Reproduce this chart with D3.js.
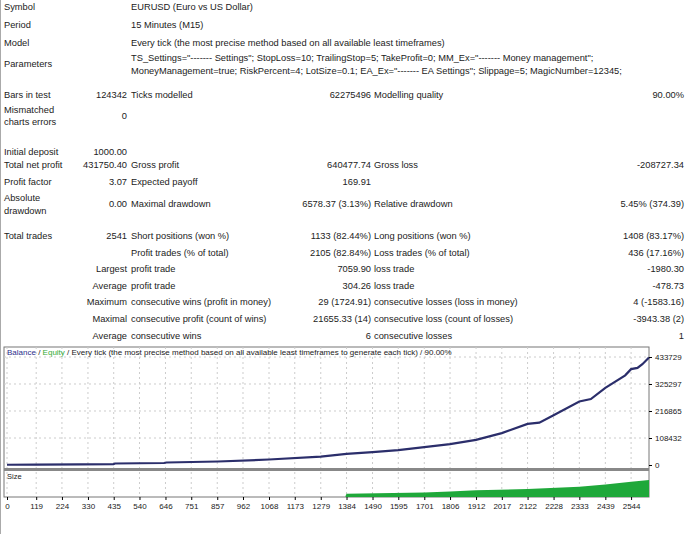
<!DOCTYPE html><html><head><meta charset="utf-8"><script src="https://cdn.jsdelivr.net/npm/d3@7"></script>
<style>body{margin:0;background:#fff}text{font-family:"Liberation Sans",Arial,sans-serif;fill:#222}</style></head><body><svg id="s" width="689" height="534"></svg><script>
const tradeTicks=[0,119,224,330,435,540,646,751,857,962,1068,1173,1279,1384,1490,1595,1701,1806,1912,2017,2122,2228,2333,2439,2544];
const balanceTicks=[0,108432,216865,325297,433729];
const balX=[0,120,300,434,440,640,650,860,1068,1279,1384,1490,1595,1701,1806,1912,2017,2122,2170,2228,2333,2380,2439,2520,2544,2570,2590,2617];
const balY=[1000,1500,2200,3000,6000,8000,10000,14000,22000,34000,45000,52000,60000,72000,84000,101000,128000,165000,170000,200000,255000,265000,310000,360000,385000,390000,405000,431750];
const sizeX=[1380,1384,1701,1806,1912,2122,2333,2439,2544,2617];
const sizeY=[0,0.1,0.15,0.2,0.25,0.3,0.4,0.5,0.62,0.7];
const rows=[
[7,"Symbol","","EURUSD (Euro vs US Dollar)","","",""],
[25,"Period","","15 Minutes (M15)","","",""],
[43,"Model","","Every tick (the most precise method based on all available least timeframes)","","",""],
[64,"Parameters","","","","",""],
[95,"Bars in test","124342","Ticks modelled","62275496","Modelling quality","90.00%"],
[152,"Initial deposit","1000.00","","","",""],
[165,"Total net profit","431750.40","Gross profit","640477.74","Gross loss","-208727.34"],
[182,"Profit factor","3.07","Expected payoff","169.91","",""],
[204,"","0.00","Maximal drawdown","6578.37 (3.13%)","Relative drawdown","5.45% (374.39)"],
[236,"Total trades","2541","Short positions (won %)","1133 (82.44%)","Long positions (won %)","1408 (83.17%)"],
[253,"","","Profit trades (% of total)","2105 (82.84%)","Loss trades (% of total)","436 (17.16%)"],
[269,"","Largest","profit trade","7059.90","loss trade","-1980.30"],
[286,"","Average","profit trade","304.26","loss trade","-478.73"],
[302,"","Maximum","consecutive wins (profit in money)","29 (1724.91)","consecutive losses (loss in money)","4 (-1583.16)"],
[319,"","Maximal","consecutive profit (count of wins)","21655.33 (14)","consecutive loss (count of losses)","-3943.38 (2)"],
[336,"","Average","consecutive wins","6","consecutive losses","1"]];
const svg=d3.select("#s");
svg.append("line").attr("x1",0.5).attr("x2",0.5).attr("y1",0).attr("y2",534).attr("stroke","#aaa");
const fs=9.3;
function t(x,y,s,a){if(!s)return;svg.append("text").attr("x",x).attr("y",y).attr("dy","0.35em").attr("font-size",fs).attr("text-anchor",a||"start").text(s);}
rows.forEach(r=>{const y=r[0];t(4,y,r[1]);t(127,y,r[2],"end");t(131,y,r[3]);t(371,y,r[4],"end");t(374,y,r[5]);t(684,y,r[6],"end");});
t(131,58,'TS_Settings="------- Settings"; StopLoss=10; TrailingStop=5; TakeProfit=0; MM_Ex="------- Money management";');
t(131,71,'MoneyManagement=true; RiskPercent=4; LotSize=0.1; EA_Ex="------- EA Settings"; Slippage=5; MagicNumber=12345;');
t(4,110,"Mismatched");t(4,122,"charts errors");t(127,116,"0","end");
t(4,198,"Absolute");t(4,211,"drawdown");
const L=4,R=649,T=347,B=468,ST=471,SB=497;
svg.append("rect").attr("x",L).attr("y",T).attr("width",R-L).attr("height",SB-T).attr("fill","#fff").attr("stroke","#777");
const x=d3.scaleLinear().domain([0,2617]).range([7,R]);
const y=d3.scaleLinear().domain([0,433729]).range([465,357]);
const ys=d3.scaleLinear().domain([0,1]).range([SB-1,ST+2]);
tradeTicks.forEach(v=>{svg.append("line").attr("x1",x(v)).attr("x2",x(v)).attr("y1",T).attr("y2",SB).attr("stroke","#ccc").attr("stroke-dasharray","2,3");});
balanceTicks.slice(1).forEach(v=>{svg.append("line").attr("x1",L).attr("x2",R).attr("y1",y(v)).attr("y2",y(v)).attr("stroke","#ccc").attr("stroke-dasharray","2,3");});
svg.append("rect").attr("x",L).attr("y",B).attr("width",R-L).attr("height",ST-B).attr("fill","#888");
svg.append("path").datum(sizeX.map((v,i)=>[v,sizeY[i]])).attr("fill","#1fa83a").attr("d",d3.area().x(d=>x(d[0])).y0(SB).y1(d=>ys(d[1])));
svg.append("path").datum(balX.map((v,i)=>[v,balY[i]])).attr("fill","none").attr("stroke","#2b2e6b").attr("stroke-width",2.2).attr("d",d3.line().x(d=>x(d[0])).y(d=>y(d[1])));
const ax=svg.append("g").attr("transform",`translate(0,${SB})`).call(d3.axisBottom(x).tickValues(tradeTicks).tickSize(3).tickFormat(d3.format("d")));
ax.select(".domain").remove();ax.selectAll("text").attr("font-size",8).attr("font-family","Liberation Sans Narrow,Liberation Sans");
const ay=svg.append("g").attr("transform",`translate(${R},0)`).call(d3.axisRight(y).tickValues(balanceTicks).tickSize(3).tickFormat(d3.format("d")));
ay.select(".domain").remove();ay.selectAll("text").attr("font-size",8).attr("font-family","Liberation Sans Narrow,Liberation Sans");
const tt=svg.append("text").attr("x",7).attr("y",355).attr("font-size",8).attr("font-family","Liberation Sans Narrow,Liberation Sans");
tt.append("tspan").attr("fill","#2b2e8b").text("Balance");tt.append("tspan").text(" / ");tt.append("tspan").attr("fill","#3a3").text("Equity");
tt.append("tspan").text(" / Every tick (the most precise method based on all available least timeframes to generate each tick) / 90.00%");
svg.append("text").attr("x",7).attr("y",479).attr("font-size",7.5).text("Size");
</script></body></html>
